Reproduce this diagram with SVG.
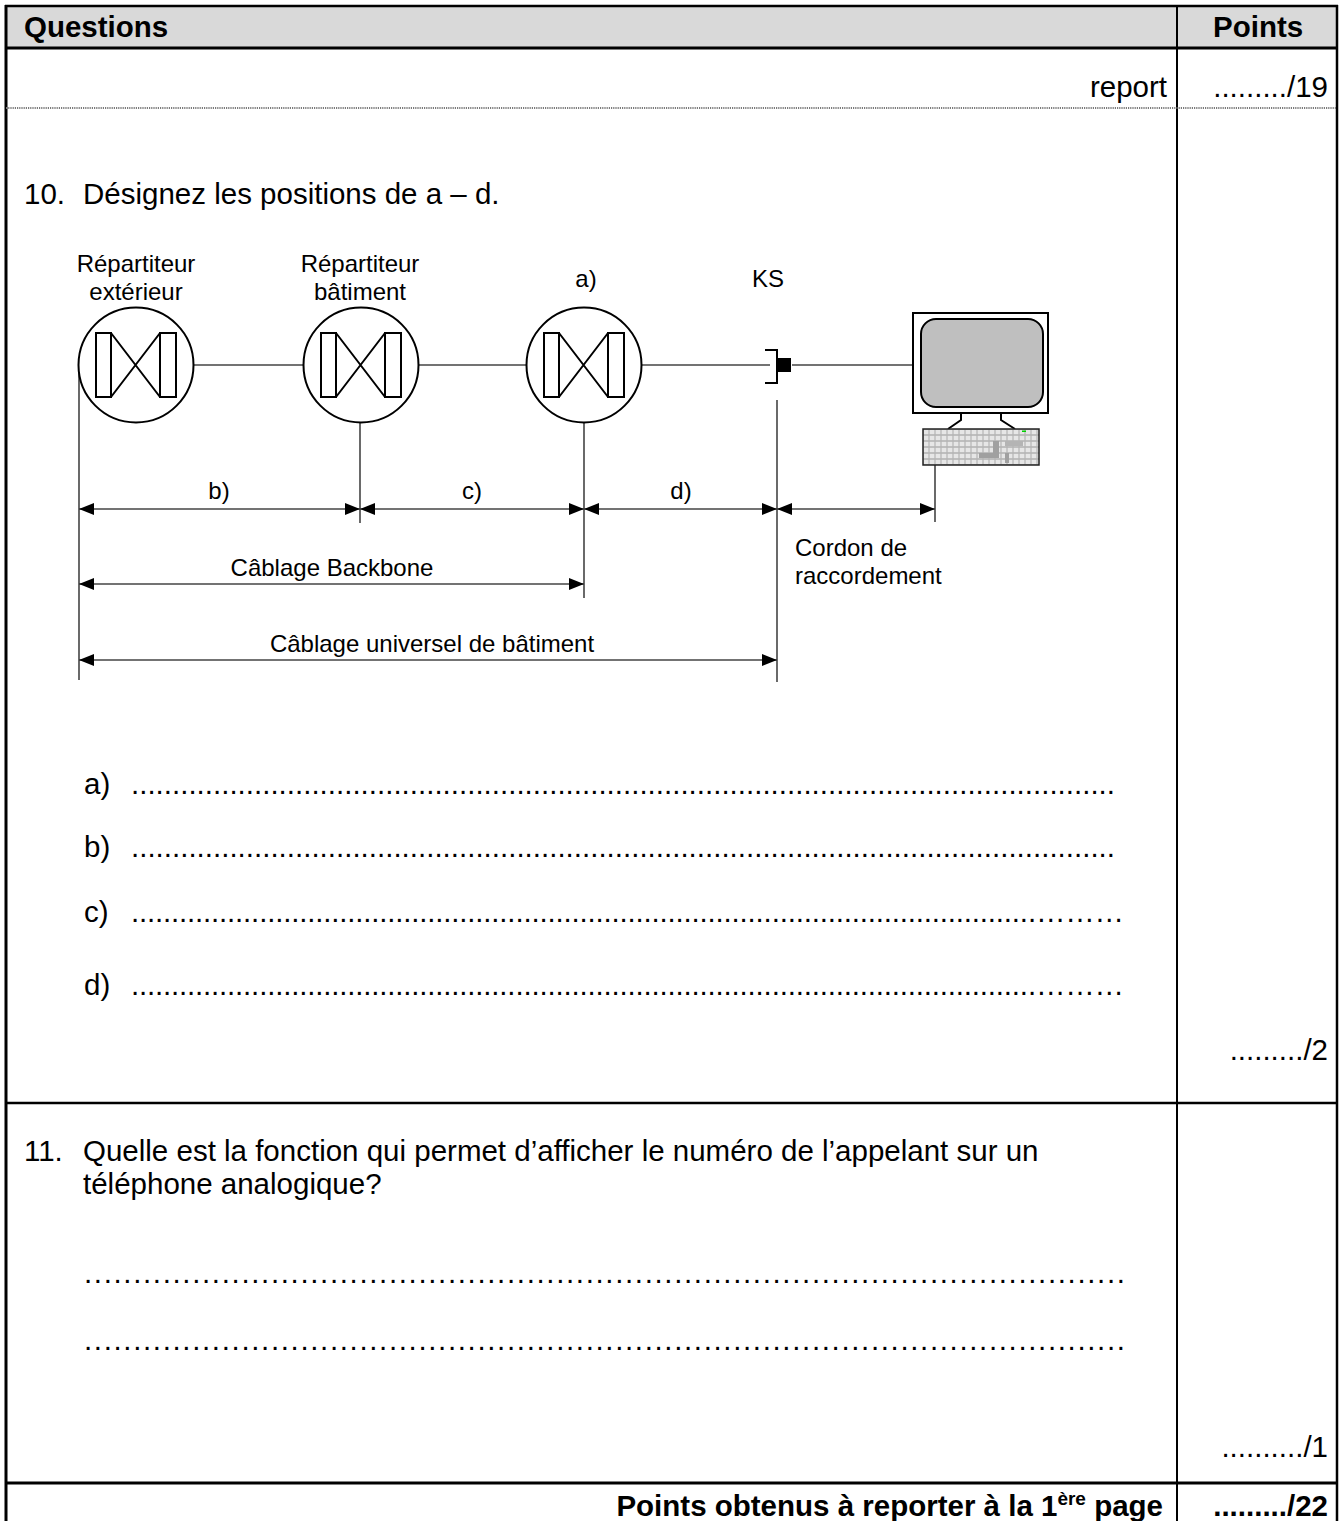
<svg xmlns="http://www.w3.org/2000/svg" width="1343" height="1521" viewBox="0 0 1343 1521">
<defs>
<style>
.t{font-family:"Liberation Sans",Arial,sans-serif;font-size:29.5px;fill:#000}
.b{font-weight:bold}
.l{font-family:"Liberation Sans",Arial,sans-serif;font-size:24px;fill:#000}
.m{text-anchor:middle}
.e{text-anchor:end}
.rule{stroke:#000;fill:none}
.sym{fill:#fff;stroke:#000;stroke-width:2}
.wire{stroke:#444;stroke-width:1.6;fill:none}
.dim{stroke:#444;stroke-width:1.6;fill:none;marker-start:url(#ah);marker-end:url(#ah)}
</style>
<marker id="ah" viewBox="0 0 15 12" refX="15" refY="6" markerWidth="15" markerHeight="12" markerUnits="userSpaceOnUse" orient="auto-start-reverse"><path d="M0,0 L15,6 L0,12 z" fill="#000"/></marker>
<pattern id="keys" x="923" y="429" width="6" height="6" patternUnits="userSpaceOnUse"><rect width="6" height="6" fill="#b4b4b4"/><rect x="0.6" y="0.8" width="4.8" height="4.4" fill="#e6e6e6"/></pattern>
<g id="repsym">
<circle cx="0" cy="0" r="57.5" class="sym"/>
<rect x="-40" y="-32" width="15" height="64" class="sym"/>
<rect x="24" y="-32" width="16" height="64" class="sym"/>
<path d="M-25,-32 L24,32 M-25,32 L24,-32" stroke="#000" stroke-width="2" fill="none"/>
</g>
</defs>
<rect width="1343" height="1521" fill="#fff"/>

<g id="table">
<rect x="6" y="6" width="1331" height="42" fill="#d9d9d9"/>
<line x1="5" y1="6" x2="1338" y2="6" class="rule" stroke-width="2.5"/>
<line x1="6" y1="5" x2="6" y2="1521" class="rule" stroke-width="3"/>
<line x1="1337" y1="5" x2="1337" y2="1521" class="rule" stroke-width="2.5"/>
<line x1="1177" y1="6" x2="1177" y2="1521" class="rule" stroke-width="2"/>
<line x1="5" y1="48" x2="1338" y2="48" class="rule" stroke-width="3"/>
<line x1="6" y1="108" x2="1337" y2="108" stroke="#7a7a7a" stroke-width="2" stroke-dasharray="1.2 1"/>
<line x1="5" y1="1103" x2="1338" y2="1103" class="rule" stroke-width="2.5"/>
<line x1="5" y1="1483" x2="1338" y2="1483" class="rule" stroke-width="3"/>
</g>

<g id="texts">
<text x="24" y="37" class="t b">Questions</text>
<text x="1213" y="37" class="t b">Points</text>
<text x="1167" y="97" class="t e">report</text>
<text x="1328" y="97" class="t e">........./19</text>
<text x="24" y="204" class="t">10.</text>
<text x="83" y="204" class="t">Désignez les positions de a – d.</text>
<text x="84" y="794" class="t">a)</text>
<text x="131" y="794" class="t" textLength="984" lengthAdjust="spacing">........................................................................................................................</text>
<text x="84" y="857" class="t">b)</text>
<text x="131" y="857" class="t" textLength="984" lengthAdjust="spacing">........................................................................................................................</text>
<text x="84" y="922" class="t">c)</text>
<text x="131" y="922" class="t" textLength="993" lengthAdjust="spacing">.................................................................................................................………</text>
<text x="84" y="995" class="t">d)</text>
<text x="131" y="995" class="t" textLength="993" lengthAdjust="spacing">.................................................................................................................………</text>
<text x="1328" y="1060" class="t e">........./2</text>
<text x="24" y="1161" class="t">11.</text>
<text x="83" y="1161" class="t">Quelle est la fonction qui permet d’afficher le numéro de l’appelant sur un</text>
<text x="83" y="1194" class="t">téléphone analogique?</text>
<text x="84" y="1283" class="t" textLength="1041" lengthAdjust="spacing">..........................................................................................................</text>
<text x="84" y="1350" class="t" textLength="1041" lengthAdjust="spacing">..........................................................................................................</text>
<text x="1328" y="1457" class="t e">........../1</text>
<text x="1163" y="1516" class="t b e">Points obtenus à reporter à la 1<tspan dy="-11" font-size="19">ère</tspan><tspan dy="11"> page</tspan></text>
<text x="1328" y="1516" class="t b e">........./22</text>
</g>

<g id="connectors">
<line x1="194" y1="365" x2="303" y2="365" class="wire"/>
<line x1="419" y1="365" x2="526" y2="365" class="wire"/>
<line x1="642" y1="365" x2="770" y2="365" class="wire"/>
<line x1="792" y1="365" x2="913" y2="365" class="wire"/>
<line x1="79" y1="365" x2="79" y2="680" class="wire"/>
<line x1="360" y1="422" x2="360" y2="523" class="wire"/>
<line x1="584" y1="422" x2="584" y2="598" class="wire"/>
<line x1="777" y1="400" x2="777" y2="682" class="wire"/>
<line x1="935" y1="465" x2="935" y2="522" class="wire"/>
<line x1="79" y1="509" x2="360" y2="509" class="dim"/>
<line x1="360" y1="509" x2="584" y2="509" class="dim"/>
<line x1="584" y1="509" x2="777" y2="509" class="dim"/>
<line x1="777" y1="509" x2="935" y2="509" class="dim"/>
<line x1="79" y1="584" x2="584" y2="584" class="dim"/>
<line x1="79" y1="660" x2="777" y2="660" class="dim"/>
</g>

<g id="dim-labels">
<text x="219" y="499" class="l m">b)</text>
<text x="472" y="499" class="l m">c)</text>
<text x="681" y="499" class="l m">d)</text>
<text x="332" y="576" class="l m">Câblage Backbone</text>
<text x="432" y="652" class="l m">Câblage universel de bâtiment</text>
<text x="795" y="556" class="l">Cordon de</text>
<text x="795" y="584" class="l">raccordement</text>
</g>

<g id="rep-exterieur">
<text x="136" y="272" class="l m">Répartiteur</text>
<text x="136" y="300" class="l m">extérieur</text>
<use href="#repsym" x="136" y="365"/>
</g>
<g id="rep-batiment">
<text x="360" y="272" class="l m">Répartiteur</text>
<text x="360" y="300" class="l m">bâtiment</text>
<use href="#repsym" x="361" y="365"/>
</g>
<g id="rep-a">
<text x="586" y="287" class="l m">a)</text>
<use href="#repsym" x="584" y="365"/>
</g>
<g id="ks">
<text x="768" y="287" class="l m">KS</text>
<path d="M765,350 L777,350 L777,383 L765,383" fill="none" stroke="#000" stroke-width="2"/>
<rect x="778" y="358" width="13" height="14" fill="#000"/>
</g>
<g id="computer">
<rect x="913" y="313" width="135" height="100" fill="#fff" stroke="#000" stroke-width="2"/>
<rect x="921" y="319" width="122" height="88" rx="15" fill="#bfbfbf" stroke="#000" stroke-width="2"/>
<path d="M961,413 L961,420 L948,429 M1001,413 L1001,420 L1015,429" fill="none" stroke="#000" stroke-width="2"/>
<rect x="923" y="429" width="116" height="36" fill="url(#keys)" stroke="#222" stroke-width="1.5"/>
<rect x="993" y="441" width="6" height="12" fill="#a0a0a0"/>
<rect x="1005" y="441" width="18" height="5" fill="#b4b4b4"/>
<rect x="979" y="453" width="20" height="5" fill="#a0a0a0"/>
<rect x="1005" y="453" width="4" height="10" fill="#a0a0a0"/>
<rect x="1022" y="430.5" width="4" height="1.5" fill="#00d000"/>
</g>
</svg>
